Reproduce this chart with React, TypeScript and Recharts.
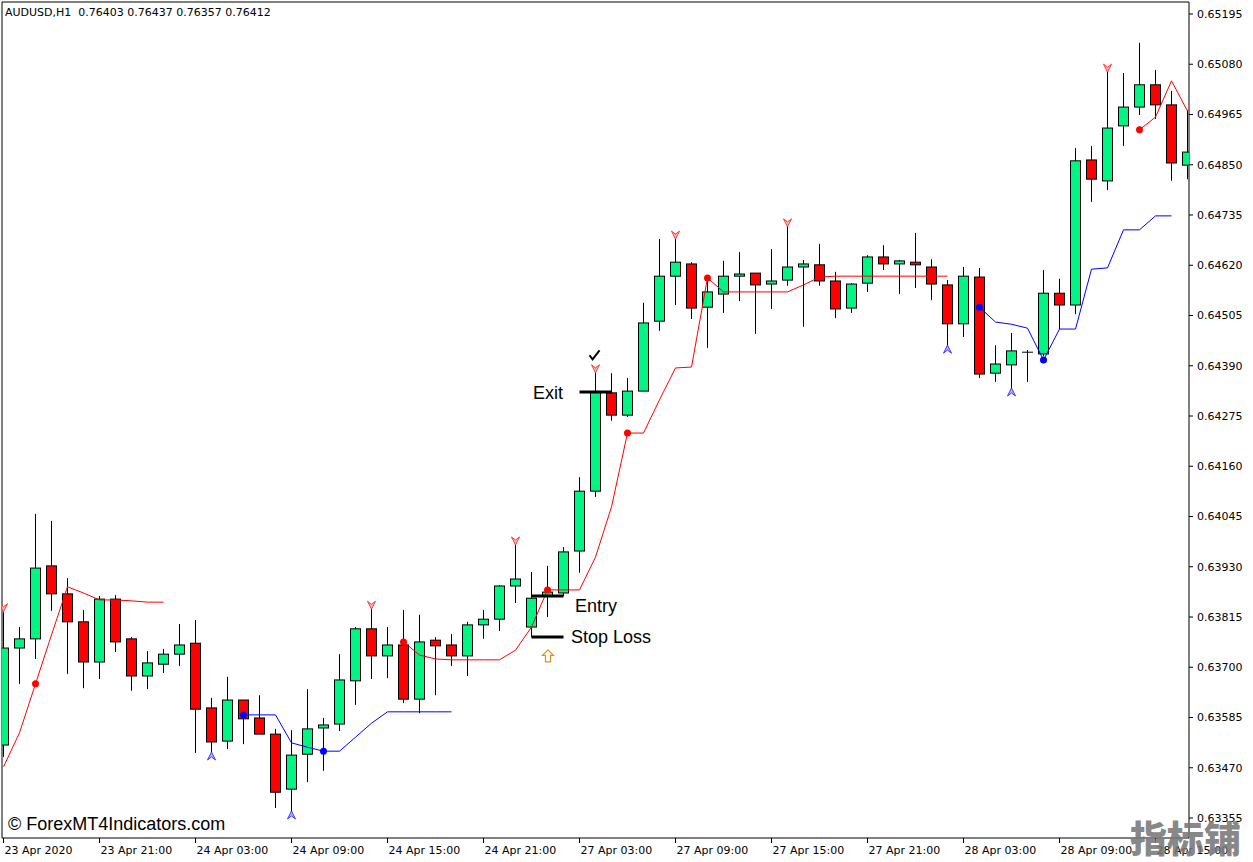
import { ComposedChart, Bar, Line, Scatter, XAxis, YAxis, ReferenceDot, ReferenceArea } from "recharts";

const GREEN = "#00F582";
const RED = "#FF0000";

// hourly candles, AUDUSD H1
const opens = [
	0.63522, 0.63744, 0.63765, 0.63932, 0.63868, 0.63804, 0.63712, 0.63856, 0.63765, 0.6368,
	0.63707, 0.6373, 0.63755, 0.63607, 0.63531, 0.63625, 0.63584, 0.63547, 0.63421, 0.63501,
	0.63561, 0.6357, 0.63669, 0.63788, 0.63726, 0.63751, 0.63627, 0.63762, 0.63751, 0.63726,
	0.63797, 0.6381, 0.63886, 0.63792, 0.63863, 0.6387, 0.63966, 0.64103, 0.64328, 0.64277,
	0.64332, 0.64492, 0.64595, 0.64623, 0.64524, 0.64554, 0.64595, 0.64602, 0.64577, 0.64586,
	0.64616, 0.64621, 0.64584, 0.64522, 0.64579, 0.64639, 0.64623, 0.64627, 0.64616, 0.64575,
	0.64486, 0.64593, 0.64373, 0.64392, 0.64421, 0.64417, 0.64556, 0.64529, 0.64861, 0.64813,
	0.64939, 0.64982, 0.65033, 0.64987, 0.64849
];
const highs = [
	0.63826, 0.63792, 0.64051, 0.64035, 0.63904, 0.63831, 0.63863, 0.63865, 0.63769, 0.63737,
	0.63742, 0.63799, 0.63808, 0.6363, 0.63678, 0.63625, 0.63636, 0.63559, 0.63556, 0.6365,
	0.63584, 0.6373, 0.63792, 0.63838, 0.63792, 0.63831, 0.6382, 0.63769, 0.63776, 0.63804,
	0.63831, 0.63888, 0.63984, 0.63918, 0.63932, 0.63975, 0.64135, 0.6438, 0.64373, 0.64362,
	0.64534, 0.6468, 0.64692, 0.64627, 0.64586, 0.6463, 0.6465, 0.64602, 0.64657, 0.64714,
	0.64632, 0.64669, 0.64605, 0.64579, 0.64643, 0.64666, 0.64632, 0.64694, 0.64634, 0.64586,
	0.64616, 0.64614, 0.64437, 0.64465, 0.64426, 0.64609, 0.64589, 0.64888, 0.64893, 0.65071,
	0.6506, 0.65129, 0.65067, 0.65019, 0.64975
];
const lows = [
	0.63495, 0.63662, 0.63719, 0.63829, 0.63685, 0.63652, 0.63673, 0.63735, 0.63646, 0.6365,
	0.63687, 0.63703, 0.63504, 0.63506, 0.63513, 0.63524, 0.63547, 0.63378, 0.63366, 0.63437,
	0.63463, 0.63554, 0.63614, 0.63673, 0.63675, 0.63618, 0.63595, 0.63636, 0.63703, 0.6368,
	0.63765, 0.63783, 0.63847, 0.63769, 0.63815, 0.63863, 0.63916, 0.6409, 0.64264, 0.64273,
	0.64332, 0.6447, 0.64529, 0.64497, 0.64431, 0.64511, 0.64538, 0.64463, 0.6452, 0.64573,
	0.64479, 0.64573, 0.64499, 0.64511, 0.64559, 0.64609, 0.64554, 0.64568, 0.6454, 0.64431,
	0.64456, 0.64362, 0.64353, 0.64332, 0.64353, 0.64412, 0.64474, 0.64508, 0.64765, 0.64792,
	0.64893, 0.64964, 0.64955, 0.64813, 0.64817
];
const closes = [
	0.63744, 0.63765, 0.63927, 0.63868, 0.63804, 0.63712, 0.63856, 0.63758, 0.6368, 0.6371,
	0.6373, 0.63751, 0.63604, 0.63529, 0.63625, 0.63582, 0.63547, 0.63414, 0.63499, 0.63559,
	0.63568, 0.63671, 0.63788, 0.63726, 0.63751, 0.63627, 0.63758, 0.63749, 0.63726, 0.63797,
	0.6381, 0.63886, 0.63902, 0.63858, 0.63872, 0.63964, 0.64103, 0.6433, 0.64277, 0.64332,
	0.64488, 0.64595, 0.64627, 0.64522, 0.64559, 0.64595, 0.646, 0.64575, 0.64584, 0.64616,
	0.64623, 0.64584, 0.6452, 0.64577, 0.64639, 0.64623, 0.6463, 0.64621, 0.64577, 0.64486,
	0.64595, 0.64371, 0.64394, 0.64424, 0.64421, 0.64556, 0.64529, 0.64859, 0.64817, 0.64934,
	0.64982, 0.65033, 0.64987, 0.64854, 0.64879
];

// trailing stop lines (null = gap)
const redLine = [
	0.63472, 0.6355, 0.63662, 0.63774, 0.63884, 0.6387, 0.63854, 0.63854, 0.63852, 0.63849,
	0.63849, null, null, null, null, null, null, null, null, null,
	null, null, null, null, null, 0.63758, 0.63728, 0.63719, 0.63717, 0.63717,
	0.63717, 0.63717, 0.63739, 0.63792, 0.63877, 0.63877, 0.63877, 0.63952, 0.64067, 0.64236,
	0.64236, 0.64312, 0.64385, 0.64387, 0.64591, 0.64559, 0.64559, 0.64559, 0.64559, 0.64559,
	0.64575, 0.64593, 0.64595, 0.64595, 0.64595, 0.64595, 0.64595, 0.64595, 0.64595, 0.64595,
	null, null, null, null, null, null, null, null, null, null,
	null, 0.6493, 0.64959, 0.65042, 0.64973
];
const blueLine = [
	null, null, null, null, null, null, null, null, null, null,
	null, null, null, null, null, 0.63591, 0.63591, 0.63591, 0.63527, 0.63517,
	0.63508, 0.63508, 0.6354, 0.63572, 0.63598, 0.63598, 0.63598, 0.63598, 0.63598, null,
	null, null, null, null, null, null, null, null, null, null,
	null, null, null, null, null, null, null, null, null, null,
	null, null, null, null, null, null, null, null, null, null,
	null, 0.64524, 0.6449, 0.64485, 0.64476, 0.64403, 0.64474, 0.64474, 0.64611, 0.64614,
	0.64701, 0.64701, 0.64733, 0.64733, null
];

const redDotIdx = [2, 25, 34, 39, 44, 71];
const blueDotIdx = [15, 20, 61, 65];
const sellArrowIdx = [0, 23, 32, 37, 42, 49, 69];
const sellArrowPrice = [0.63836, 0.63842, 0.63989, 0.64383, 0.64689, 0.64717, 0.65071];
const buyArrowIdx = [13, 18, 59, 63];
const buyArrowPrice = [0.63497, 0.63362, 0.64428, 0.6433];

const timeTicks = [0, 6, 12, 18, 24, 30, 36, 42, 48, 54, 60, 66, 72];
const timeLabels = [
	"23 Apr 2020", "23 Apr 21:00", "24 Apr 03:00", "24 Apr 09:00", "24 Apr 15:00", "24 Apr 21:00",
	"27 Apr 03:00", "27 Apr 09:00", "27 Apr 15:00", "27 Apr 21:00", "28 Apr 03:00", "28 Apr 09:00",
	"28 Apr 15:00"
];
const priceTicks = [
	0.63355, 0.6347, 0.63585, 0.637, 0.63815, 0.6393, 0.64045, 0.6416, 0.64275,
	0.6439, 0.64505, 0.6462, 0.64735, 0.6485, 0.64965, 0.6508, 0.65195
];

const xDomain = [-0.09375, 74.09375];
const yDomain = [0.6330926, 0.6522246];

const data = opens.map((o, i) => ({
	i,
	o,
	h: highs[i],
	l: lows[i],
	c: closes[i],
	range: [lows[i], highs[i]],
	red: redLine[i],
	blue: blueLine[i]
}));

const redDots = redDotIdx.map((i) => ({ i, v: redLine[i] }));
const blueDots = blueDotIdx.map((i) => ({ i, v: blueLine[i] }));
const sellArrows = sellArrowIdx.map((i, k) => ({ i, v: sellArrowPrice[k] }));
const buyArrows = buyArrowIdx.map((i, k) => ({ i, v: buyArrowPrice[k] }));
const entrySeg = [{ i: 33, v: 0.63863 }, { i: 35, v: 0.63863 }];
const stopSeg = [{ i: 33, v: 0.63769 }, { i: 35, v: 0.63769 }];
const exitSeg = [{ i: 36, v: 0.6433 }, { i: 38, v: 0.6433 }];

function Candle(props: any) {
	const { x, y, width, height, payload } = props;
	if (!payload) return null;
	const cx = x + width / 2;
	const top = Math.min(y, y + height);
	const span = Math.abs(height);
	const { o, h, l, c } = payload;
	const k = span / (h - l);
	const yO = top + (h - o) * k;
	const yC = top + (h - c) * k;
	const bTop = Math.min(yO, yC);
	const bBot = Math.max(yO, yC);
	return (
		<g>
			<line x1={cx} x2={cx} y1={top} y2={top + span} stroke="#000" strokeWidth={1} />
			{c === o ? (
				<line x1={cx - 5.5} x2={cx + 5.5} y1={yO} y2={yO} stroke="#000" strokeWidth={1} />
			) : (
				<rect
					x={cx - 5}
					y={bTop}
					width={10}
					height={Math.max(bBot - bTop, 1)}
					fill={c > o ? GREEN : RED}
					stroke="#000"
					strokeWidth={1}
				/>
			)}
		</g>
	);
}

const RedDot = (p: any) => <circle cx={p.cx} cy={p.cy} r={3.5} fill={RED} />;
const BlueDot = (p: any) => <circle cx={p.cx} cy={p.cy} r={3.5} fill="#0000FF" />;
const SellArrow = ({ cx, cy }: any) => (
	<path
		d={`M${cx - 4},${cy - 4} L${cx},${cy + 4} L${cx + 4},${cy - 4} L${cx},${cy - 1} Z`}
		fill="#ffb4b4"
		stroke="#ff3a3a"
		strokeWidth={1}
	/>
);
const BuyArrow = ({ cx, cy }: any) => (
	<path
		d={`M${cx - 4},${cy + 4} L${cx},${cy - 4} L${cx + 4},${cy + 4} L${cx},${cy + 1} Z`}
		fill="#b4b4ff"
		stroke="#3a3aff"
		strokeWidth={1}
	/>
);

// outlined up arrow under the entry candle
const UpMark = ({ cx, cy }: any) => (
	<path
		d={`M${cx},${cy - 6} L${cx + 5.5},${cy - 0.5} L${cx + 2.5},${cy - 0.5} L${cx + 2.5},${cy + 6} L${cx - 2.5},${cy + 6} L${cx - 2.5},${cy - 0.5} L${cx - 5.5},${cy - 0.5} Z`}
		fill="#fff"
		stroke="#e0901a"
		strokeWidth={1.2}
	/>
);
const CheckMark = ({ cx, cy }: any) => (
	<path
		d={`M${cx - 5},${cy} L${cx - 2},${cy + 4} L${cx + 5},${cy - 5}`}
		fill="none"
		stroke="#000"
		strokeWidth={2}
	/>
);

function TimeTick(props: any) {
	const { x, payload } = props;
	const label = timeLabels[timeTicks.indexOf(payload.value)];
	return (
		<text x={x + 1} y={854} fontSize={11} fontFamily="DejaVu Sans" fill="#000" textAnchor="start">
			{label}
		</text>
	);
}

const note = (text: string) => (p: any) => (
	<text x={p.cx} y={p.cy} dy="0.35em" fontSize={18} fontFamily="Liberation Sans, Arial" fill="#000" textAnchor="start">
		{text}
	</text>
);

export default function App() {
	return (
		<div style={{ position: "absolute", left: 0, top: 0, width: 1253, height: 862, background: "#fff" }}>
			<ComposedChart width={1253} height={862} data={data} margin={{ top: 2, right: 0, bottom: 0, left: 2 }}>
				<XAxis
					type="number"
					dataKey="i"
					domain={xDomain}
					allowDataOverflow
					ticks={timeTicks}
					interval={0}
					height={24}
					tickSize={5}
					axisLine={false}
					tickLine={{ stroke: "#000" }}
					tick={(p: any) => <TimeTick {...p} />}
				/>
				<YAxis
					orientation="right"
					type="number"
					domain={yDomain}
					allowDataOverflow
					ticks={priceTicks}
					interval={0}
					width={64}
					tickSize={4}
					tickMargin={4}
					axisLine={false}
					tickLine={{ stroke: "#000" }}
					tick={{ fontSize: 11, fill: "#000", fontFamily: "DejaVu Sans" }}
					tickFormatter={(v: number) => v.toFixed(5)}
				/>
				<ReferenceArea
					x1={xDomain[0]}
					x2={xDomain[1]}
					y1={yDomain[0]}
					y2={yDomain[1]}
					fill="none"
					fillOpacity={0}
					stroke="#000"
					strokeWidth={1}
					ifOverflow="visible"
				/>
				<Bar dataKey="range" barSize={10} shape={Candle} isAnimationActive={false} />
				<Line dataKey="red" stroke={RED} strokeWidth={1} dot={false} activeDot={false} connectNulls={false} isAnimationActive={false} />
				<Line dataKey="blue" stroke="#0000FF" strokeWidth={1} dot={false} activeDot={false} connectNulls={false} isAnimationActive={false} />
				<Line data={entrySeg} dataKey="v" stroke="#000" strokeWidth={3} dot={false} activeDot={false} isAnimationActive={false} />
				<Line data={stopSeg} dataKey="v" stroke="#000" strokeWidth={3} dot={false} activeDot={false} isAnimationActive={false} />
				<Line data={exitSeg} dataKey="v" stroke="#000" strokeWidth={3} dot={false} activeDot={false} isAnimationActive={false} />
				<Scatter data={redDots} dataKey="v" shape={RedDot} isAnimationActive={false} />
				<Scatter data={blueDots} dataKey="v" shape={BlueDot} isAnimationActive={false} />
				<Scatter data={sellArrows} dataKey="v" shape={SellArrow} isAnimationActive={false} />
				<Scatter data={buyArrows} dataKey="v" shape={BuyArrow} isAnimationActive={false} />
				<ReferenceDot x={33.09} y={0.64328} r={0} ifOverflow="visible" shape={note("Exit")} />
				<ReferenceDot x={35.72} y={0.63842} r={0} ifOverflow="visible" shape={note("Entry")} />
				<ReferenceDot x={35.47} y={0.63769} r={0} ifOverflow="visible" shape={note("Stop Loss")} />
				<ReferenceDot x={36.94} y={0.64414} r={0} ifOverflow="visible" shape={CheckMark} />
				<ReferenceDot x={34.03} y={0.63726} r={0} ifOverflow="visible" shape={UpMark} />
			</ComposedChart>
			<div
				style={{
					position: "absolute", left: 5, top: 6, fontSize: 11, lineHeight: "13px",
					fontFamily: "DejaVu Sans", color: "#000", whiteSpace: "pre"
				}}
			>
				AUDUSD,H1  0.76403 0.76437 0.76357 0.76412
			</div>
			<div
				style={{
					position: "absolute", left: 8, top: 813, fontSize: 18, lineHeight: "22px",
					fontFamily: "Liberation Sans, Arial", color: "#000", whiteSpace: "pre"
				}}
			>
				© ForexMT4Indicators.com
			</div>
			<div
				style={{
					position: "absolute", left: 1130, top: 816, fontSize: 37, lineHeight: "42px",
					fontFamily: "Noto Sans CJK SC", fontWeight: 900, color: "rgba(120,120,120,0.9)", whiteSpace: "pre"
				}}
			>
				指标铺
			</div>
		</div>
	);
}
